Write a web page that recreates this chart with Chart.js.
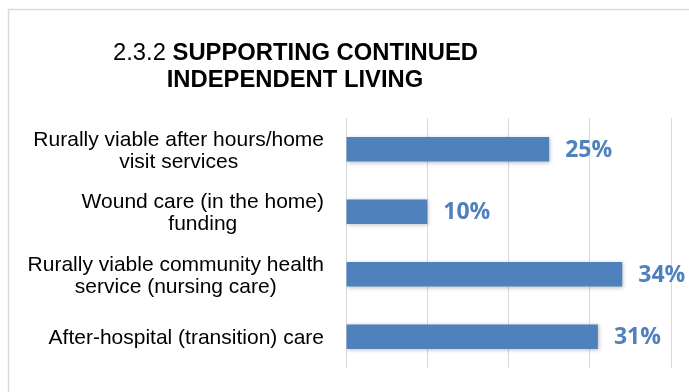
<!DOCTYPE html>
<html>
<head>
<meta charset="utf-8">
<script src="https://cdn.jsdelivr.net/npm/chart.js@4/dist/chart.umd.min.js"></script>
<style>
html,body{margin:0;padding:0;background:#fff;}
#wrap{width:689px;height:392px;position:relative;}
</style>
</head>
<body>
<div id="wrap"><canvas id="c" width="689" height="392"></canvas></div>
<script>
const categories = [
  ["Rurally viable after hours/home", "visit services"],
  ["Wound care (in the home)", "funding"],
  ["Rurally viable community health", "service (nursing care)"],
  ["After-hospital (transition) care"]
];
const values = [25, 10, 34, 31];
const titlePrefix = "2.3.2 ";
const titleLine1 = "SUPPORTING CONTINUED";
const titleLine2 = "INDEPENDENT LIVING";

const BLUE = '#4f81bd';

const framePlugin = {
  id: 'frame',
  beforeDraw(chart) {
    const ctx = chart.ctx;
    ctx.save();
    ctx.fillStyle = '#fff';
    ctx.fillRect(0, 0, chart.width, chart.height);
    ctx.strokeStyle = '#d9d9d9';
    ctx.lineWidth = 1.5;
    ctx.strokeRect(8.5, 9.5, 720, 420);
    ctx.restore();
  }
};

const titlePlugin = {
  id: 'mixedTitle',
  afterDraw(chart) {
    const ctx = chart.ctx;
    ctx.save();
    const fam = '"Liberation Sans Narrow", "Liberation Sans", Arial, sans-serif';
    const normalF = '24px ' + fam;
    const boldF = 'bold 24px ' + fam;
    ctx.font = normalF;
    const wPre = ctx.measureText(titlePrefix).width;
    ctx.font = boldF;
    const w1 = ctx.measureText(titleLine1).width;
    const w2 = ctx.measureText(titleLine2).width;
    const sx = 365 / (wPre + w1);
    ctx.fillStyle = '#000';
    ctx.textBaseline = 'alphabetic';
    ctx.textAlign = 'left';
    ctx.save();
    ctx.translate(113, 60);
    ctx.scale(sx, 1);
    ctx.font = normalF;
    ctx.fillText(titlePrefix, 0, 0);
    ctx.font = boldF;
    ctx.fillText(titleLine1, wPre, 0);
    ctx.restore();
    ctx.save();
    ctx.translate(295 - (w2 * sx) / 2, 87);
    ctx.scale(sx, 1);
    ctx.font = boldF;
    ctx.fillText(titleLine2, 0, 0);
    ctx.restore();
    ctx.restore();
  }
};

const categoryLabelPlugin = {
  id: 'categoryLabels',
  afterDraw(chart) {
    const ctx = chart.ctx;
    const yScale = chart.scales.y;
    ctx.save();
    ctx.font = '21px "Liberation Sans", Arial, sans-serif';
    ctx.fillStyle = '#000';
    ctx.textAlign = 'center';
    ctx.textBaseline = 'alphabetic';
    const rightEdge = 324, lineH = 22, capHalf = 7.5;
    categories.forEach((lines, i) => {
      const cy = yScale.getPixelForValue(i);
      const maxW = Math.max(...lines.map(l => ctx.measureText(l).width));
      const cx = rightEdge - maxW / 2;
      const firstCenter = cy - (lines.length - 1) * lineH / 2;
      lines.forEach((l, j) => {
        ctx.fillText(l, cx, firstCenter + j * lineH + capHalf);
      });
    });
    ctx.restore();
  }
};

const valueLabelPlugin = {
  id: 'valueLabels',
  afterDatasetsDraw(chart) {
    const ctx = chart.ctx;
    ctx.save();
    ctx.font = 'bold 23px "Open Sans", Lato, sans-serif';
    ctx.fillStyle = BLUE;
    ctx.textAlign = 'left';
    ctx.textBaseline = 'middle';
    chart.getDatasetMeta(0).data.forEach((bar, i) => {
      ctx.fillText(values[i] + '%', bar.x + 16, bar.y + 1);
    });
    ctx.restore();
  }
};

const shadowPlugin = {
  id: 'barShadow',
  beforeDatasetsDraw(chart) {
    const ctx = chart.ctx;
    ctx.save();
    ctx.shadowColor = 'rgba(0,0,0,0.25)';
    ctx.shadowBlur = 4;
    ctx.shadowOffsetX = 1;
    ctx.shadowOffsetY = 1;
  },
  afterDatasetsDraw(chart) {
    chart.ctx.restore();
  }
};

new Chart(document.getElementById('c'), {
  type: 'bar',
  data: {
    labels: categories,
    datasets: [{
      data: values,
      backgroundColor: BLUE,
      borderWidth: 0,
      categoryPercentage: 1,
      barPercentage: 0.395
    }]
  },
  options: {
    indexAxis: 'y',
    responsive: false,
    animation: false,
    events: [],
    layout: { padding: { left: 0, top: 118, right: 18, bottom: 24 } },
    plugins: { legend: { display: false }, title: { display: false }, tooltip: { enabled: false } },
    scales: {
      x: {
        min: 0, max: 40,
        ticks: { display: false, stepSize: 10 },
        grid: { color: '#d9d9d9', lineWidth: 1, drawTicks: false },
        border: { display: false },
        afterFit(scale) { scale.height = 0; }
      },
      y: {
        ticks: { display: false },
        grid: { display: false, drawTicks: false },
        border: { display: false },
        afterFit(scale) { scale.width = 346; }
      }
    }
  },
  plugins: [framePlugin, shadowPlugin, valueLabelPlugin, categoryLabelPlugin, titlePlugin]
});
</script>
</body>
</html>
